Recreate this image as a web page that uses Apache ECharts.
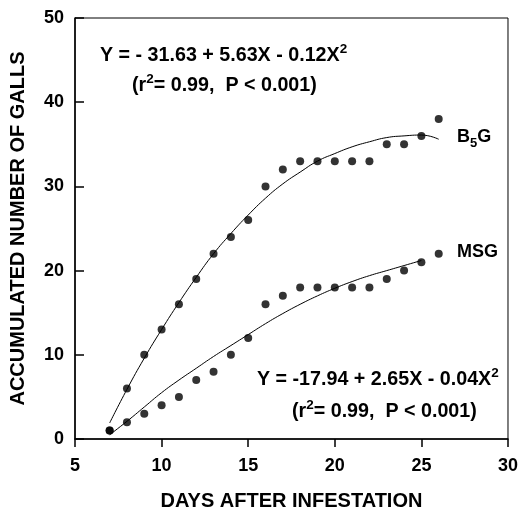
<!DOCTYPE html>
<html><head><meta charset="utf-8">
<script src="https://cdn.jsdelivr.net/npm/echarts/dist/echarts.min.js"></script>
<style>html,body{margin:0;padding:0;background:#fff}#c{width:521px;height:516px}</style>
</head><body><div id="c"></div>
<script>
// Observed data (days after infestation vs accumulated galls)
const days = [7,8,9,10,11,12,13,14,15,16,17,18,19,20,21,22,23,24,25,26];
const b5gCounts = [1,6,10,13,16,19,22,24,26,30,32,33,33,33,33,33,35,35,36,38];
const msgCounts = [1,2,3,4,5,7,8,10,12,16,17,18,18,18,18,18,19,20,21,22];
// Fitted curves
const b5gFitX = [7,8,9,10,11,12,13,14,15,16,17,18,19,20,21,22,23,24,25,26];
const b5gFitY = [1.9,5.9,9.6,13.0,16.2,19.2,22.0,24.4,26.6,28.6,30.3,31.7,33.0,33.9,34.7,35.3,35.8,36.0,36.1,35.6];
const msgFitX = [7,8,9,10,11,12,13,14,15,16,17,18,19,20,21,22,23,24,25];
const msgFitY = [0.5,2.1,3.8,5.5,7.0,8.4,9.8,11.1,12.4,13.7,14.9,16.0,17.0,17.9,18.7,19.4,20.0,20.6,21.2];
const xTicks = [5,10,15,20,25,30];
const yTicks = [0,10,20,30,40,50];

const FONT = '"Liberation Sans", Arial, Helvetica, sans-serif';
const chart = echarts.init(document.getElementById('c'));

function eqText(main, sup, tail) {
  return '{a|' + main + '}{s|' + sup + '}' + (tail ? '{a|' + tail + '}' : '');
}
const eqRich = {
  a: {fontSize: 19.7, fontWeight: 'bold', fontFamily: FONT, color: '#000', lineHeight: 28},
  s: {fontSize: 13.5, fontWeight: 'bold', fontFamily: FONT, color: '#000', lineHeight: 13, verticalAlign: 'top'}
};
const subRich = {
  a: {fontSize: 18, fontWeight: 'bold', fontFamily: FONT, color: '#000', lineHeight: 26},
  b: {fontSize: 13, fontWeight: 'bold', fontFamily: FONT, color: '#000', lineHeight: 13, verticalAlign: 'bottom'}
};
function label(x, y, text, rich) {
  return {type: 'text', left: x, top: y, silent: true,
    style: {text: text, rich: rich, fill: '#000', font: 'bold 19px ' + FONT, textVerticalAlign: 'middle'}};
}

chart.setOption({
  animation: false,
  backgroundColor: '#fff',
  grid: {left: 74, top: 18, right: 11, bottom: 72, show: true, borderColor: '#000', borderWidth: 1},
  xAxis: {
    type: 'value', min: xTicks[0], max: xTicks[xTicks.length-1], interval: 5,
    axisLine: {show: true, lineStyle: {color: '#000', width: 1.5}},
    axisTick: {show: true, inside: false, length: 8, lineStyle: {color: '#000', width: 1.5}},
    axisLabel: {fontSize: 18, fontWeight: 'bold', color: '#000', fontFamily: FONT, margin: 18},
    splitLine: {show: false},
    name: 'DAYS AFTER INFESTATION', nameLocation: 'middle', nameGap: 52,
    nameTextStyle: {fontSize: 20, fontWeight: 'bold', color: '#000', fontFamily: FONT}
  },
  yAxis: {
    type: 'value', min: yTicks[0], max: yTicks[yTicks.length-1], interval: 10,
    axisLine: {show: true, lineStyle: {color: '#000', width: 1.5}},
    axisTick: {show: true, inside: true, length: 9, lineStyle: {color: '#000', width: 1.5}},
    axisLabel: {fontSize: 18, fontWeight: 'bold', color: '#000', fontFamily: FONT, margin: 11},
    splitLine: {show: false},
    name: 'ACCUMULATED NUMBER OF GALLS', nameLocation: 'middle', nameGap: 47,
    nameTextStyle: {fontSize: 20, fontWeight: 'bold', color: '#000', fontFamily: FONT}
  },
  series: [
    {type: 'line', name: 'B5G fit', smooth: true, showSymbol: false, silent: true,
      data: b5gFitX.map((x, i) => [x, b5gFitY[i]]), lineStyle: {color: '#000', width: 1}},
    {type: 'line', name: 'MSG fit', smooth: true, showSymbol: false, silent: true,
      data: msgFitX.map((x, i) => [x, msgFitY[i]]), lineStyle: {color: '#000', width: 1}},
    {type: 'scatter', name: 'B5G', symbol: 'circle', symbolSize: 8,
      data: days.map((d, i) => [d, b5gCounts[i]]), itemStyle: {color: '#000'}},
    {type: 'scatter', name: 'MSG', symbol: 'circle', symbolSize: 8,
      data: days.map((d, i) => [d, msgCounts[i]]), itemStyle: {color: '#000'}}
  ],
  graphic: [
    label(100, 42, eqText('Y = - 31.63 + 5.63X - 0.12X', '2'), eqRich),
    label(132, 72, '{a|(r}{s|2}{a|= 0.99,  P < 0.001)}', eqRich),
    label(257, 366, eqText('Y = -17.94 + 2.65X - 0.04X', '2'), eqRich),
    label(292, 398, '{a|(r}{s|2}{a|= 0.99,  P < 0.001)}', eqRich),
    label(457, 128, '{a|B}{b|5}{a|G}', subRich),
    label(457, 243, '{a|MSG}', subRich)
  ]
});
</script></body></html>
